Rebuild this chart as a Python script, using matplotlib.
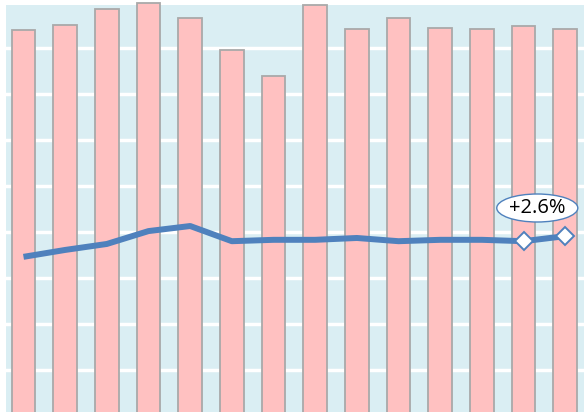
import matplotlib
matplotlib.use("Agg")
import matplotlib.pyplot as plt
from matplotlib.patches import Ellipse

categories = list(range(14))
bar_values = [8.39, 8.50, 8.84, 8.98, 8.65, 7.96, 7.39, 8.93, 8.41, 8.65, 8.43, 8.41, 8.48, 8.41]
line_values = [3.46, 3.61, 3.74, 4.02, 4.13, 3.80, 3.83, 3.83, 3.87, 3.80, 3.83, 3.83, 3.80, 3.91]
marker_idx = [12, 13]
label_text = "+2.6%"

W, H = 584, 412
fig = plt.figure(figsize=(W / 100, H / 100), dpi=100)
fig.patch.set_facecolor("white")
ax = fig.add_axes([6 / W, 0, (W - 6) / W, (H - 5) / H])
ax.set_facecolor("#DAEEF3")
ax.set_xlim(-0.42, 13.45)
ax.set_ylim(4 / 46, 411 / 46)
for k in range(1, 9):
    ax.axhline(k, color="white", lw=2.5, zorder=1)

ax.bar(categories, bar_values, width=0.57, color="#FFC1C1", edgecolor="#A9A9A9",
       linewidth=1.3, zorder=2, clip_on=False)
ax.plot(categories, line_values, color="#4F81BD", lw=4.3, solid_capstyle="butt",
        solid_joinstyle="round", zorder=3)
ax.plot([categories[i] for i in marker_idx], [line_values[i] for i in marker_idx],
        linestyle="none", marker="D", ms=9, mfc="white", mec="#4F81BD", mew=1.4, zorder=4)

ex = (537 - 23.5) / 41.65
ey = (416 - 208) / 46
ell = Ellipse((ex, ey), width=81 / 41.65, height=28 / 46, facecolor="white",
              edgecolor="#4F81BD", lw=1.0, zorder=5)
ax.add_patch(ell)
ax.text(ex, ey, label_text, ha="center", va="center", fontsize=14.5,
        family="Open Sans", zorder=6)

for s in ax.spines.values():
    s.set_visible(False)
ax.set_xticks([])
ax.set_yticks([])
fig.savefig("out.png", dpi=100)
